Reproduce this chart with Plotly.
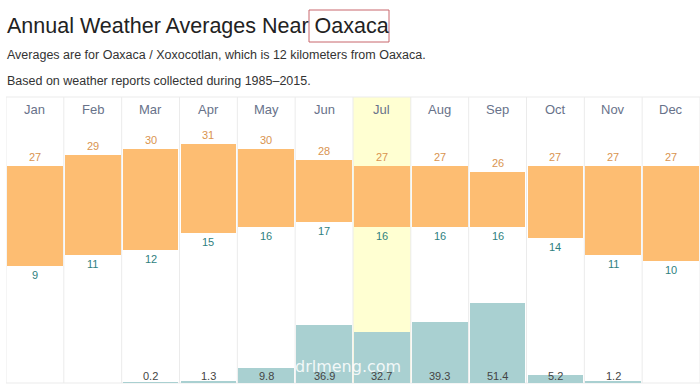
import plotly.graph_objects as go

months = ["Jan", "Feb", "Mar", "Apr", "May", "Jun", "Jul", "Aug", "Sep", "Oct", "Nov", "Dec"]
temp_high = [27, 29, 30, 31, 30, 28, 27, 27, 26, 27, 27, 27]
temp_low = [9, 11, 12, 15, 16, 17, 16, 16, 16, 14, 11, 10]
precip = [None, None, 0.2, 1.3, 9.8, 36.9, 32.7, 39.3, 51.4, 5.2, 1.2, None]
highlight_month = "Jul"

W, H = 700, 384
L, R, T, B = 6, 0, 97, 1
PW, PH = W - L - R, H - T - B
FONT = "Liberation Sans, Arial, sans-serif"

def px_x(p):
    return (p - L) / PW

def px_y(p):
    return (H - B - p) / PH

xs = list(range(len(months)))

fig = go.Figure()
fig.add_trace(go.Bar(
    x=xs, y=[h - l for h, l in zip(temp_high, temp_low)], base=temp_low,
    marker=dict(color="#fdbd72", line=dict(width=0)), width=0.965,
    hoverinfo="skip", yaxis="y"))
fig.add_trace(go.Bar(
    x=xs, y=[p if p is not None else 0 for p in precip],
    marker=dict(color="#a9d0d1", line=dict(width=0)), width=0.965,
    hoverinfo="skip", yaxis="y2"))

shapes = []
hi = months.index(highlight_month)
shapes.append(dict(type="rect", xref="x", yref="paper", x0=hi - 0.5, x1=hi + 0.5,
                   y0=0, y1=1, fillcolor="#ffffd2", line=dict(width=0), layer="below"))
for k in range(len(months) + 1):
    shapes.append(dict(type="line", xref="x", yref="paper", x0=k - 0.5, x1=k - 0.5,
                       y0=0, y1=1, line=dict(color="#ebebeb", width=1), layer="below"))
shapes.append(dict(type="line", xref="paper", yref="paper", x0=0, x1=1, y0=1, y1=1,
                   line=dict(color="#ebebeb", width=1), layer="below"))
shapes.append(dict(type="line", xref="paper", yref="paper", x0=0, x1=1, y0=0, y1=0,
                   line=dict(color="#ebebeb", width=1), layer="below"))
# box around the place name in the title
shapes.append(dict(type="rect", xref="paper", yref="paper",
                   x0=px_x(309), x1=px_x(389), y0=px_y(42), y1=px_y(10),
                   line=dict(color="#c8676c", width=1), fillcolor="rgba(0,0,0,0)"))

ann = []
ann.append(dict(text="Annual Weather Averages Near Oaxaca", xref="paper", yref="paper",
                x=px_x(5), y=px_y(26), xanchor="left", yanchor="middle", showarrow=False,
                font=dict(family=FONT, size=21.5, color="#222222")))
ann.append(dict(text="Averages are for Oaxaca / Xoxocotlan, which is 12 kilometers from Oaxaca.",
                xref="paper", yref="paper", x=px_x(5), y=px_y(55), xanchor="left",
                yanchor="middle", showarrow=False, font=dict(family=FONT, size=12.5, color="#333333")))
ann.append(dict(text="Based on weather reports collected during 1985\u20132015.",
                xref="paper", yref="paper", x=px_x(5), y=px_y(81), xanchor="left",
                yanchor="middle", showarrow=False, font=dict(family=FONT, size=12.5, color="#333333")))
for i, m in enumerate(months):
    ann.append(dict(text=m, xref="x", yref="paper", x=i, y=px_y(110), yanchor="middle",
                    showarrow=False, font=dict(family=FONT, size=13, color="#68728a")))
    ann.append(dict(text=str(temp_high[i]), xref="x", yref="y", x=i, y=temp_high[i],
                    yanchor="bottom", yshift=1, showarrow=False,
                    font=dict(family=FONT, size=11, color="#d99450")))
    ann.append(dict(text=str(temp_low[i]), xref="x", yref="y", x=i, y=temp_low[i],
                    yanchor="top", yshift=-1, showarrow=False,
                    font=dict(family=FONT, size=11, color="#2f7f80")))
    if precip[i] is not None:
        ann.append(dict(text=f"{precip[i]:.1f}", xref="x", yref="paper", x=i, y=px_y(376),
                        yanchor="middle", showarrow=False,
                        font=dict(family=FONT, size=11, color="#444444")))
ann.append(dict(text="drlmeng.com", xref="paper", yref="paper", x=px_x(348), y=px_y(366),
                yanchor="middle", showarrow=False, opacity=0.85,
                font=dict(family="DejaVu Sans, sans-serif", size=16, color="#ffffff")))

fig.update_layout(
    width=W, height=H, margin=dict(l=L, r=R, t=T, b=B),
    paper_bgcolor="white", plot_bgcolor="rgba(0,0,0,0)",
    showlegend=False, barmode="overlay", bargap=0,
    xaxis=dict(range=[-0.5, len(months) - 0.5], visible=False, fixedrange=True),
    yaxis=dict(range=[-11.96, 39.39], visible=False, fixedrange=True),
    yaxis2=dict(range=[0, 182.9], visible=False, overlaying="y", fixedrange=True),
    shapes=shapes, annotations=ann,
)
fig.write_html("out.html", config={"displayModeBar": False},
               post_script="document.body.style.margin='0';document.body.style.overflow='hidden';")
